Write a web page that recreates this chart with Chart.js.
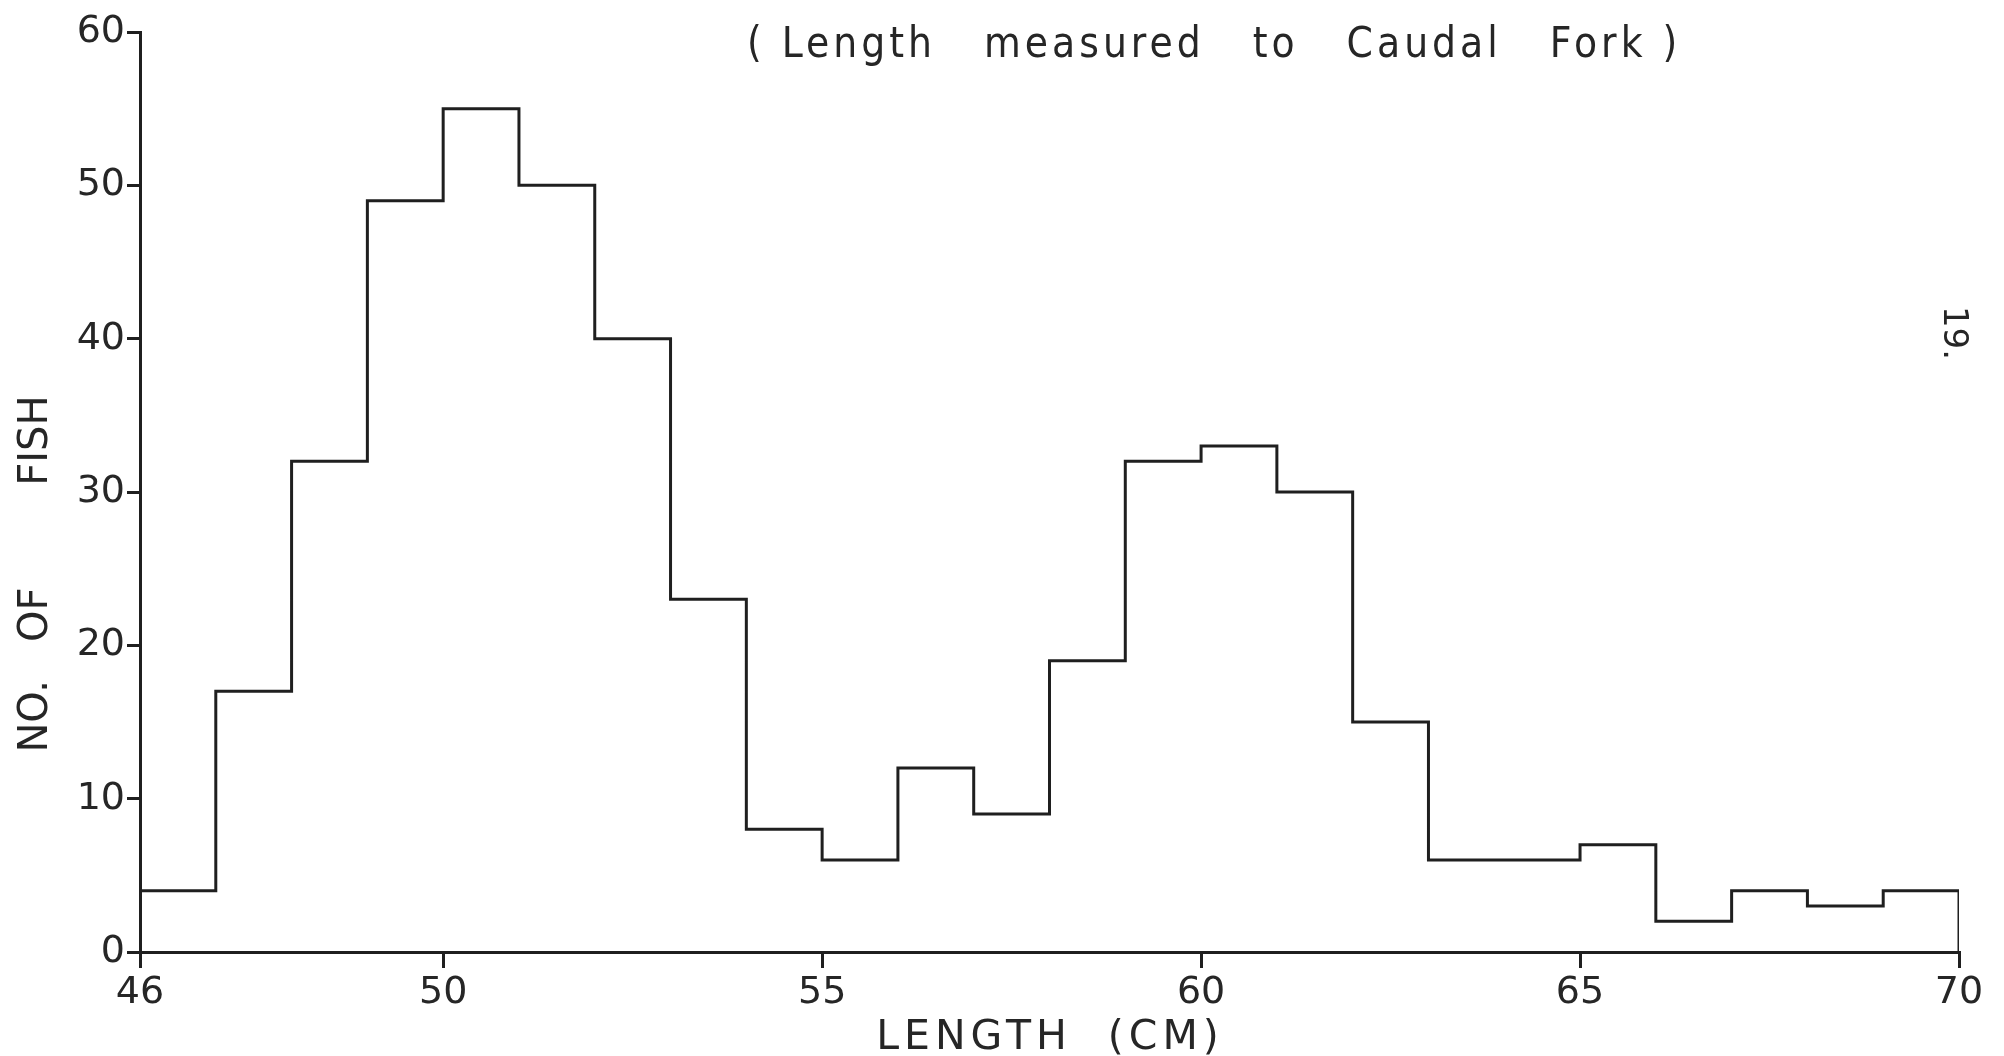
<!DOCTYPE html>
<html>
<head>
<meta charset="utf-8">
<script src="https://cdn.jsdelivr.net/npm/chart.js@4.4.1/dist/chart.umd.min.js"></script>
<style>
  body { margin: 0; background: #fff; }
  canvas { display: block; }
</style>
</head>
<body>
<canvas id="fishChart" width="2004" height="1056"></canvas>
<script>
// Length classes (cm) - left edge of each 1 cm bin, plus the closing edge at 70
const binEdges = [46, 47, 48, 49, 50, 51, 52, 53, 54, 55, 56, 57, 58, 59, 60, 61, 62, 63, 64, 65, 66, 67, 68, 69, 70];
// Number of fish in each bin
const fishCounts = [4, 17, 32, 49, 55, 50, 40, 23, 8, 6, 12, 9, 19, 32, 33, 30, 15, 6, 6, 7, 2, 4, 3, 4];

const xTickValues = [46, 50, 55, 60, 65, 70];
const yTickStep = 10;

const noteText = '( Length   measured   to   Caudal   Fork )';
const xAxisTitle = 'LENGTH  (CM)';
const yAxisTitle = 'NO.   OF        FISH';
const pageNumber = '19.';

const ink = '#1f1f1f';
const textInk = '#262626';

// step outline: each point holds its bin count until the next edge
const outline = binEdges.map((x, i) => ({ x: x, y: i < fishCounts.length ? fishCounts[i] : 0 }));

// the extra text on the sheet (note, axis titles, page number)
const sheetText = {
    id: 'sheetText',
    afterDraw(chart) {
        const ctx = chart.ctx;
        ctx.save();
        ctx.fillStyle = textInk;
        ctx.textBaseline = 'alphabetic';

        ctx.font = '42px "DejaVu Sans Condensed", "DejaVu Sans"';
        ctx.letterSpacing = '4px';
        ctx.textAlign = 'left';
        ctx.fillText(noteText, 747, 57);

        ctx.font = '41px "DejaVu Sans"';
        ctx.letterSpacing = '5px';
        ctx.textAlign = 'center';
        ctx.fillText(xAxisTitle, 1050, 1049);

        ctx.save();
        ctx.font = '40px "DejaVu Sans"';
        ctx.letterSpacing = '0px';
        ctx.translate(47, 574);
        ctx.rotate(-Math.PI / 2);
        ctx.fillText(yAxisTitle, 0, 0);
        ctx.restore();

        ctx.save();
        ctx.font = '34px "DejaVu Sans"';
        ctx.letterSpacing = '0px';
        ctx.translate(1944, 333);
        ctx.rotate(Math.PI / 2);
        ctx.fillText(pageNumber, 0, 0);
        ctx.restore();

        ctx.restore();
    }
};

const ctx = document.getElementById('fishChart').getContext('2d');
new Chart(ctx, {
    type: 'line',
    data: {
        datasets: [{
            data: outline,
            stepped: 'before',
            borderColor: ink,
            borderWidth: 3,
            pointRadius: 0,
            fill: false
        }]
    },
    options: {
        responsive: false,
        animation: false,
        devicePixelRatio: 1,
        layout: { padding: { left: 0, right: 45, top: 32, bottom: 0 } },
        plugins: {
            legend: { display: false },
            tooltip: { enabled: false }
        },
        scales: {
            x: {
                type: 'linear',
                min: 46,
                max: 70,
                afterBuildTicks: scale => { scale.ticks = xTickValues.map(v => ({ value: v })); },
                afterFit: scale => { scale.height = 104; },
                border: { display: true, color: ink, width: 3 },
                grid: { drawOnChartArea: false, drawTicks: true, tickLength: 16, color: ink, lineWidth: 3 },
                ticks: {
                    color: textInk,
                    padding: 2,
                    maxRotation: 0,
                    autoSkip: false,
                    font: { family: '"DejaVu Sans"', size: 38 }
                }
            },
            y: {
                min: 0,
                max: 60,
                afterFit: scale => { scale.width = 140; },
                border: { display: true, color: ink, width: 3 },
                grid: { drawOnChartArea: false, drawTicks: true, tickLength: 13, color: ink, lineWidth: 3 },
                ticks: {
                    stepSize: yTickStep,
                    color: textInk,
                    padding: 2,
                    font: { family: '"DejaVu Sans"', size: 38 }
                }
            }
        }
    },
    plugins: [sheetText]
});
</script>
</body>
</html>
